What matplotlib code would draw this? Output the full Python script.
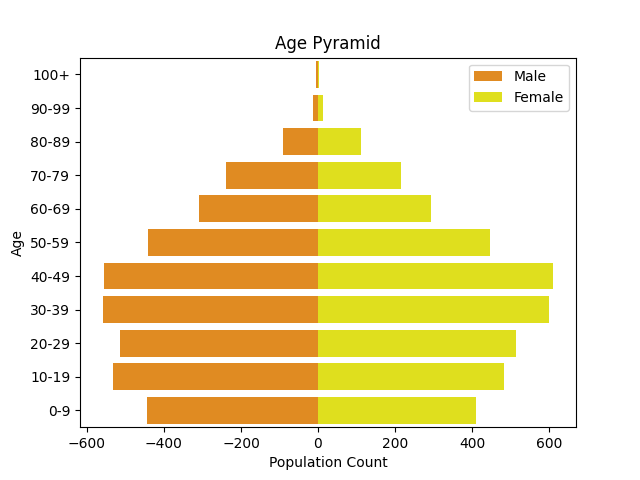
import matplotlib
matplotlib.use("Agg")
import matplotlib.pyplot as plt

ages = ["0-9", "10-19", "20-29", "30-39", "40-49", "50-59",
        "60-69", "70-79", "80-89", "90-99", "100+"]
male = [444, 532, 514, 558, 556, 442, 309, 239, 91, 13, 5]
female = [410, 483, 514, 600, 610, 447, 294, 216, 112, 13, 3]

fig, ax = plt.subplots(figsize=(6.4, 4.8), dpi=100)
ax.barh(ages, [-m for m in male], height=0.8, color="#e08b22", label="Male")
ax.barh(ages, female, height=0.8, color="#dfdf1e", label="Female")
ax.set_xlim(-618, 670)
ax.set_ylim(-0.5, 10.5)
ax.set_title("Age Pyramid")
ax.set_xlabel("Population Count")
ax.set_ylabel("Age")
ax.legend(loc="upper right")
fig.savefig("out.png")
